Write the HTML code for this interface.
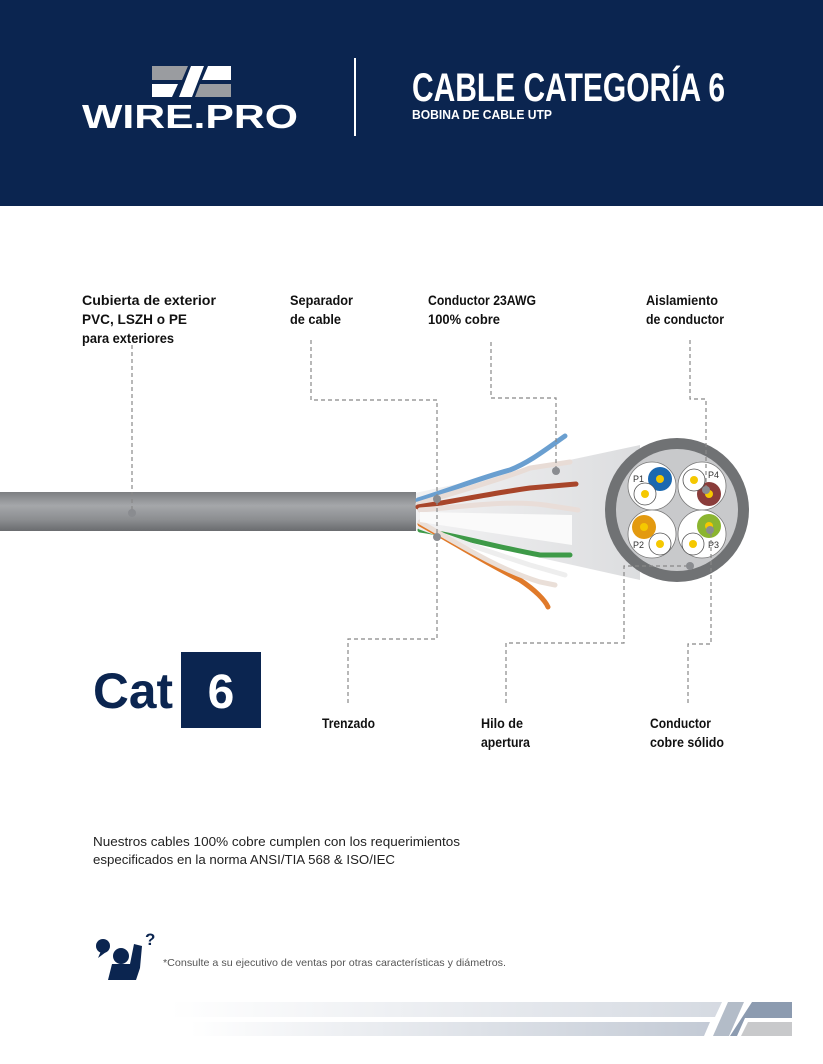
<!DOCTYPE html>
<html><head><meta charset="utf-8"><style>
html,body{margin:0;padding:0;background:#fff}
body{width:823px;height:1064px;overflow:hidden;position:relative;font-family:"Liberation Sans",sans-serif}
</style></head><body>
<svg width="823" height="1064" viewBox="0 0 823 1064" xmlns="http://www.w3.org/2000/svg" style="position:absolute;left:0;top:0">
<defs>
<linearGradient id="cab" x1="0" y1="0" x2="0" y2="1">
<stop offset="0" stop-color="#7d7f82"/><stop offset="0.35" stop-color="#a5a7aa"/><stop offset="0.7" stop-color="#8c8e91"/><stop offset="1" stop-color="#6a6c6f"/></linearGradient>
<linearGradient id="cone" x1="0" y1="0" x2="1" y2="0">
<stop offset="0" stop-color="#f2f2f3"/><stop offset="1" stop-color="#dcdddf"/></linearGradient>
<linearGradient id="stripe" x1="0" y1="0" x2="1" y2="0">
<stop offset="0" stop-color="#fff"/><stop offset="1" stop-color="#c3cad5"/></linearGradient>
</defs>
<!-- header -->
<rect x="0" y="0" width="823" height="206" fill="#0b2550"/>
<polygon points="152,66 188,66 182,80 152,80" fill="#9a9ca0"/>
<polygon points="152,84 178,84 172,97 152,97" fill="#fff"/>
<polygon points="191,66 204,66 192,97 179,97" fill="#fff"/>
<polygon points="208,66 231,66 231,80 202,80" fill="#fff"/>
<polygon points="200,84 231,84 231,97 195,97" fill="#9a9ca0"/>
<text x="82" y="128" font-size="33" font-weight="bold" fill="#fff" textLength="216" lengthAdjust="spacingAndGlyphs">WIRE.PRO</text>
<rect x="354" y="58" width="2" height="78" fill="#fff"/>
<text x="412" y="101" font-size="40" font-weight="bold" fill="#fff" textLength="313" lengthAdjust="spacingAndGlyphs">CABLE CATEGORÍA 6</text>
<text x="412" y="119" font-size="13" font-weight="bold" fill="#fff" textLength="140" lengthAdjust="spacingAndGlyphs">BOBINA DE CABLE UTP</text>

<!-- labels -->
<g font-size="14" font-weight="bold" fill="#111">
<text x="82" y="305" textLength="134" lengthAdjust="spacingAndGlyphs">Cubierta de exterior</text>
<text x="82" y="324" textLength="105" lengthAdjust="spacingAndGlyphs">PVC, LSZH o PE</text>
<text x="82" y="343" textLength="92" lengthAdjust="spacingAndGlyphs">para exteriores</text>
<text x="290" y="305" textLength="63" lengthAdjust="spacingAndGlyphs">Separador</text>
<text x="290" y="324" textLength="51" lengthAdjust="spacingAndGlyphs">de cable</text>
<text x="428" y="305" textLength="108" lengthAdjust="spacingAndGlyphs">Conductor 23AWG</text>
<text x="428" y="324" textLength="72" lengthAdjust="spacingAndGlyphs">100% cobre</text>
<text x="646" y="305" textLength="72" lengthAdjust="spacingAndGlyphs">Aislamiento</text>
<text x="646" y="324" textLength="78" lengthAdjust="spacingAndGlyphs">de conductor</text>
<text x="322" y="728" textLength="53" lengthAdjust="spacingAndGlyphs">Trenzado</text>
<text x="481" y="728" textLength="42" lengthAdjust="spacingAndGlyphs">Hilo de</text>
<text x="481" y="747" textLength="49" lengthAdjust="spacingAndGlyphs">apertura</text>
<text x="650" y="728" textLength="61" lengthAdjust="spacingAndGlyphs">Conductor</text>
<text x="650" y="747" textLength="74" lengthAdjust="spacingAndGlyphs">cobre sólido</text>
</g>

<!-- cable -->
<polygon points="415,493 640,445 640,580 415,530" fill="url(#cone)"/>
<rect x="0" y="492" width="416" height="39" fill="url(#cab)"/>
<g fill="none" stroke-width="5" stroke-linecap="round">
<path d="M418,500 C450,490 480,478 510,470 C530,462 545,450 565,436" stroke="#6a9fd0"/>
<path d="M418,504 C455,492 500,480 530,468 L570,462" stroke="#e8dcd6"/>
<path d="M418,507 C460,500 500,492 530,488 L576,484" stroke="#a8452a"/>
<path d="M420,510 C470,506 510,500 545,505 L578,510" stroke="#e9ddd8"/>
<path d="M420,530 C460,536 500,548 540,555 L570,555" stroke="#3e9a48"/>
<path d="M420,527 C455,540 490,552 530,565 L565,575" stroke="#eee"/>
<path d="M420,524 C450,540 480,560 520,580 C535,590 545,600 548,607" stroke="#e07a2a"/>
<path d="M420,522 C460,545 500,570 540,582 L555,585" stroke="#eadfd8"/>
</g>
<g fill="#fafafa"><polygon points="420,512 572,515 572,545 420,522"/></g>

<!-- cross section -->
<circle cx="677" cy="510" r="72" fill="#707274"/>
<circle cx="677" cy="510" r="61" fill="#c8c9cb"/>
<g stroke="#777" stroke-width="0.8" fill="#fff">
<circle cx="652" cy="486" r="24"/><circle cx="702" cy="486" r="24"/>
<circle cx="652" cy="534" r="24"/><circle cx="702" cy="534" r="24"/>
</g>
<circle cx="660" cy="479" r="12" fill="#1b68b0"/><circle cx="660" cy="479" r="4" fill="#f5c800"/>
<circle cx="645" cy="494" r="11" fill="#fff" stroke="#555" stroke-width="0.8"/><circle cx="645" cy="494" r="4" fill="#f5c800"/>
<circle cx="709" cy="494" r="12" fill="#8a3c3a"/><circle cx="709" cy="494" r="4" fill="#f5c800"/>
<circle cx="694" cy="480" r="11" fill="#fff" stroke="#555" stroke-width="0.8"/><circle cx="694" cy="480" r="4" fill="#f5c800"/>
<circle cx="644" cy="527" r="12" fill="#e39a10"/><circle cx="644" cy="527" r="4" fill="#f5c800"/>
<circle cx="660" cy="544" r="11" fill="#fff" stroke="#555" stroke-width="0.8"/><circle cx="660" cy="544" r="4" fill="#f5c800"/>
<circle cx="709" cy="526" r="12" fill="#8bb530"/><circle cx="709" cy="526" r="4" fill="#f5c800"/>
<circle cx="693" cy="544" r="11" fill="#fff" stroke="#555" stroke-width="0.8"/><circle cx="693" cy="544" r="4" fill="#f5c800"/>
<g font-size="9" fill="#333"><text x="633" y="482">P1</text><text x="708" y="478">P4</text><text x="633" y="548">P2</text><text x="708" y="548">P3</text></g>

<!-- dashed connectors -->
<g fill="none" stroke="#888" stroke-width="1.2" stroke-dasharray="4,3">
<path d="M132,345 V513"/>
<path d="M311,340 V400 H437 V537"/>
<path d="M491,342 V398 H556 V471"/>
<path d="M690,340 V399 H706 V490"/>
<path d="M348,703 V639 H437 V540"/>
<path d="M506,703 V643 H624 V566 H690"/>
<path d="M688,703 V644 H711 V530"/>
</g>
<g fill="#8a8c90">
<circle cx="132" cy="513" r="4"/><circle cx="437" cy="537" r="4"/><circle cx="556" cy="471" r="4"/>
<circle cx="706" cy="490" r="4"/><circle cx="690" cy="566" r="4"/><circle cx="710" cy="530" r="4"/>
<circle cx="437" cy="499" r="4"/>
</g>

<!-- Cat 6 -->
<text x="93" y="708" font-size="50" font-weight="bold" fill="#0b2550" textLength="80" lengthAdjust="spacingAndGlyphs">Cat</text>
<rect x="181" y="652" width="80" height="76" fill="#0b2550"/>
<text x="221" y="708" font-size="48" font-weight="bold" fill="#fff" text-anchor="middle">6</text>

<g font-size="13" fill="#222">
<text x="93" y="846" textLength="367" lengthAdjust="spacingAndGlyphs">Nuestros cables 100% cobre cumplen con los requerimientos</text>
<text x="93" y="864" textLength="302" lengthAdjust="spacingAndGlyphs">especificados en la norma ANSI/TIA 568 &amp; ISO/IEC</text>
</g>

<!-- icon -->
<g fill="#0b2550">
<circle cx="103" cy="946" r="7"/>
<polygon points="101,951 98,958 106,952"/>
<circle cx="121" cy="956" r="8"/>
<path d="M108,980 L112,964 L130,964 L134,944 L142,946 L140,968 L136,980 Z"/>
<text x="145" y="945" font-size="17" font-weight="bold">?</text>
</g>
<text x="163" y="966" font-size="10.5" fill="#555" textLength="343" lengthAdjust="spacingAndGlyphs">*Consulte a su ejecutivo de ventas por otras características y diámetros.</text>

<!-- bottom stripes -->
<polygon points="170,1002 722,1002 715,1017 170,1017" fill="url(#stripe)" opacity="0.7"/>
<polygon points="190,1022 710,1022 704,1036 190,1036" fill="url(#stripe)"/>
<polygon points="728,1002 744,1002 729,1036 713,1036" fill="#b3bcc8"/>
<polygon points="752,1002 792,1002 792,1018 745,1018 737,1036 730,1036" fill="#8c9bb0"/>
<polygon points="748,1022 792,1022 792,1036 741,1036" fill="#c8c9cb"/>
</svg>
</body></html>
